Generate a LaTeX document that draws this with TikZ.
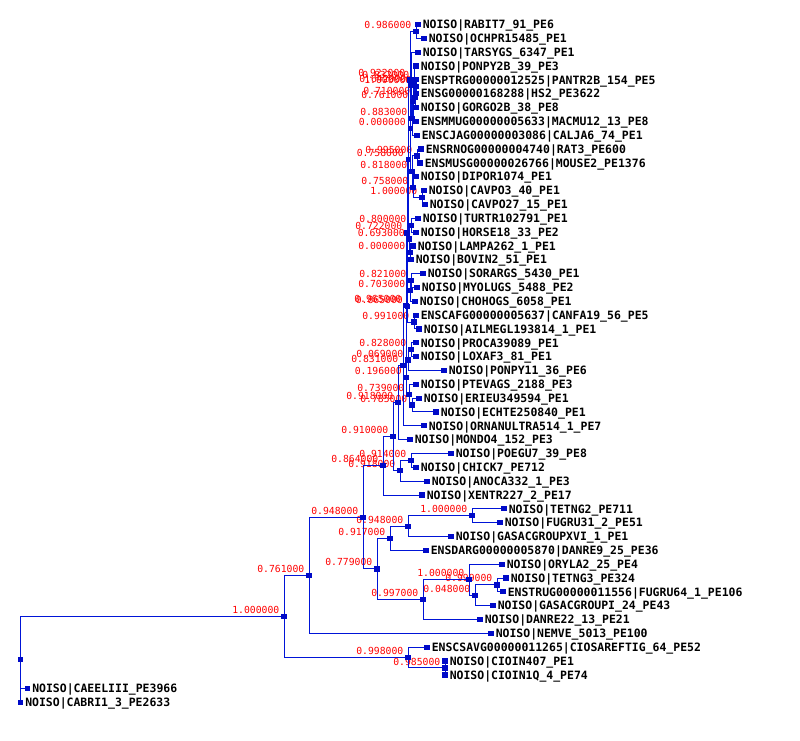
\documentclass[tikz,border=0pt]{standalone}
\usepackage{fontspec}
\newfontfamily\treemono{DejaVu Sans Mono}
\definecolor{linecol}{RGB}{0,20,215}
\definecolor{sqcol}{RGB}{0,10,200}
\definecolor{bootred}{RGB}{255,0,0}
\tikzset{
  edge/.style={draw=linecol, line width=0.75pt},
  sq/.style={fill=sqcol, draw=none, inner sep=0pt, minimum size=3.9pt},
  leaftext/.style={anchor=base west, inner sep=0pt, text=black, font=\treemono\bfseries\fontsize{8.6}{10}\selectfont},
  boot/.style={anchor=base east, inner sep=0pt, text=bootred, font=\treemono\fontsize{7.3}{9}\selectfont},
}
\newcommand\LeafAt[4]{\coordinate (#1) at (#2,#3); \node[leaftext] (#1-t) at ([xshift=3.375pt,yshift=-3.15pt]#1) {#4};}
\newcommand\InnerAt[4]{\coordinate (#1) at (#2,#3); \node[boot] (#1-b) at ([xshift=-3.375pt,yshift=2.2pt]#1) {#4};}
\newcommand\Br[2]{\draw[edge] (#1) |- (#2);}
\begin{document}
\begin{tikzpicture}[x=0.75pt,y=-0.75pt]
\fill[white] (0,0) rectangle (800,740);
\useasboundingbox (0,0) rectangle (800,740);
% leaves
\LeafAt{l1}{418}{24.5}{NOISO|RABIT7\_91\_PE6}
\LeafAt{l2}{424}{38.3}{NOISO|OCHPR15485\_PE1}
\LeafAt{l3}{418}{52.2}{NOISO|TARSYGS\_6347\_PE1}
\LeafAt{l4}{416}{66.0}{NOISO|PONPY2B\_39\_PE3}
\LeafAt{l5}{416}{79.8}{ENSPTRG00000012525|PANTR2B\_154\_PE5}
\LeafAt{l6}{416}{93.7}{ENSG00000168288|HS2\_PE3622}
\LeafAt{l7}{416}{107.5}{NOISO|GORGO2B\_38\_PE8}
\LeafAt{l8}{416}{121.4}{ENSMMUG00000005633|MACMU12\_13\_PE8}
\LeafAt{l9}{417}{135.2}{ENSCJAG00000003086|CALJA6\_74\_PE1}
\LeafAt{l10}{421}{149.0}{ENSRNOG00000004740|RAT3\_PE600}
\LeafAt{l11}{420}{162.9}{ENSMUSG00000026766|MOUSE2\_PE1376}
\LeafAt{l12}{416}{176.7}{NOISO|DIPOR1074\_PE1}
\LeafAt{l13}{424}{190.5}{NOISO|CAVPO3\_40\_PE1}
\LeafAt{l14}{425}{204.4}{NOISO|CAVPO27\_15\_PE1}
\LeafAt{l15}{418}{218.2}{NOISO|TURTR102791\_PE1}
\LeafAt{l16}{416}{232.1}{NOISO|HORSE18\_33\_PE2}
\LeafAt{l17}{413}{245.9}{NOISO|LAMPA262\_1\_PE1}
\LeafAt{l18}{411}{259.7}{NOISO|BOVIN2\_51\_PE1}
\LeafAt{l19}{423}{273.6}{NOISO|SORARGS\_5430\_PE1}
\LeafAt{l20}{417}{287.4}{NOISO|MYOLUGS\_5488\_PE2}
\LeafAt{l21}{415}{301.2}{NOISO|CHOHOGS\_6058\_PE1}
\LeafAt{l22}{416}{315.1}{ENSCAFG00000005637|CANFA19\_56\_PE5}
\LeafAt{l23}{419}{328.9}{NOISO|AILMEGL193814\_1\_PE1}
\LeafAt{l24}{416}{342.8}{NOISO|PROCA39089\_PE1}
\LeafAt{l25}{416}{356.6}{NOISO|LOXAF3\_81\_PE1}
\LeafAt{l26}{444}{370.4}{NOISO|PONPY11\_36\_PE6}
\LeafAt{l27}{416}{384.3}{NOISO|PTEVAGS\_2188\_PE3}
\LeafAt{l28}{419}{398.1}{NOISO|ERIEU349594\_PE1}
\LeafAt{l29}{436}{411.9}{NOISO|ECHTE250840\_PE1}
\LeafAt{l30}{424}{425.8}{NOISO|ORNANULTRA514\_1\_PE7}
\LeafAt{l31}{410}{439.6}{NOISO|MONDO4\_152\_PE3}
\LeafAt{l32}{451}{453.5}{NOISO|POEGU7\_39\_PE8}
\LeafAt{l33}{416}{467.3}{NOISO|CHICK7\_PE712}
\LeafAt{l34}{427}{481.1}{NOISO|ANOCA332\_1\_PE3}
\LeafAt{l35}{422}{495.0}{NOISO|XENTR227\_2\_PE17}
\LeafAt{l36}{504}{508.8}{NOISO|TETNG2\_PE711}
\LeafAt{l37}{500}{522.6}{NOISO|FUGRU31\_2\_PE51}
\LeafAt{l38}{451}{536.5}{NOISO|GASACGROUPXVI\_1\_PE1}
\LeafAt{l39}{426}{550.3}{ENSDARG00000005870|DANRE9\_25\_PE36}
\LeafAt{l40}{502}{564.2}{NOISO|ORYLA2\_25\_PE4}
\LeafAt{l41}{506}{578.0}{NOISO|TETNG3\_PE324}
\LeafAt{l42}{503}{591.8}{ENSTRUG00000011556|FUGRU64\_1\_PE106}
\LeafAt{l43}{493}{605.7}{NOISO|GASACGROUPI\_24\_PE43}
\LeafAt{l44}{480}{619.5}{NOISO|DANRE22\_13\_PE21}
\LeafAt{l45}{491}{633.4}{NOISO|NEMVE\_5013\_PE100}
\LeafAt{l46}{427}{647.2}{ENSCSAVG00000011265|CIOSAREFTIG\_64\_PE52}
\LeafAt{l47}{445}{661.0}{NOISO|CIOIN407\_PE1}
\LeafAt{l48}{445}{674.9}{NOISO|CIOIN1Q\_4\_PE74}
\LeafAt{l49}{27.5}{688.7}{NOISO|CAEELIII\_PE3966}
\LeafAt{l50}{20.5}{702.5}{NOISO|CABRI1\_3\_PE2633}
% internal nodes
\InnerAt{n1}{416}{31.4}{0.986000}
\InnerAt{p1}{416}{86.75}{1.000000}
\InnerAt{p2}{415}{97.1}{0.710000}
\InnerAt{p3}{414}{81.6}{0.832000}
\InnerAt{p4}{413}{101.5}{0.761000}
\InnerAt{p5}{412}{118.35}{0.883000}
\InnerAt{p6}{411}{85.3}{0.642000}
\InnerAt{ro1}{417}{155.95}{0.995000}
\InnerAt{cav}{422}{197.45}{1.000000}
\InnerAt{dc}{413}{187.1}{0.758000}
\InnerAt{rod}{412}{171.5}{0.818000}
\InnerAt{e0}{410.5}{128.4}{0.000000}
\InnerAt{E}{410}{79.9}{0.922000}
\InnerAt{tu}{411}{225.15}{0.800000}
\InnerAt{lb}{410}{252.8}{0.000000}
\InnerAt{ce}{409.5}{239.0}{0.693000}
\InnerAt{sm}{411}{280.5}{0.821000}
\InnerAt{smc}{410}{290.85}{0.703000}
\InnerAt{ca}{414}{322.0}{0.991000}
\InnerAt{L1}{407.5}{306.4}{0.865000}
\InnerAt{g9}{408.5}{159.45}{0.758000}
\InnerAt{g7}{407}{232.9}{0.722000}
\InnerAt{af}{411}{349.7}{0.828000}
\InnerAt{g06}{408}{360.05}{0.069000}
\InnerAt{ee}{412}{405.0}{0.785000}
\InnerAt{pe}{409}{394.65}{0.739000}
\InnerAt{Y}{406.5}{377.35}{0.196000}
\InnerAt{Z}{406}{305.1}{0.965000}
\InnerAt{W}{403}{365.45}{0.831000}
\InnerAt{T}{398}{402.5}{0.918000}
\InnerAt{V}{411}{460.4}{0.914000}
\InnerAt{U}{400}{470.75}{0.918000}
\InnerAt{D}{393}{436.6}{0.910000}
\InnerAt{C}{383}{465.8}{0.864000}
\InnerAt{L}{472}{515.7}{1.000000}
\InnerAt{K}{408}{526.1}{0.948000}
\InnerAt{I}{390}{538.2}{0.917000}
\InnerAt{O}{497}{584.9}{0.999000}
\InnerAt{N}{475}{595.3}{0.048000}
\InnerAt{M}{469}{579.75}{1.000000}
\InnerAt{J}{423}{599.6}{0.997000}
\InnerAt{E2}{377}{568.9}{0.779000}
\InnerAt{B}{363}{517.35}{0.948000}
\InnerAt{F}{309}{575.4}{0.761000}
\InnerAt{H}{445}{667.95}{0.985000}
\InnerAt{G}{408}{657.6}{0.998000}
\InnerAt{A}{284}{616.5}{1.000000}
\coordinate (R) at (20.5,659.5);
% branches
\Br{n1}{l1}\Br{n1}{l2}
\Br{p1}{l5}\Br{p1}{l6}
\Br{p2}{p1}\Br{p2}{l7}
\Br{p3}{l4}\Br{p3}{p2}
\Br{p4}{p3}\Br{p4}{l8}
\Br{p5}{p4}\Br{p5}{l9}
\Br{p6}{l3}\Br{p6}{p5}
\Br{ro1}{l10}\Br{ro1}{l11}
\Br{cav}{l13}\Br{cav}{l14}
\Br{dc}{l12}\Br{dc}{cav}
\Br{rod}{ro1}\Br{rod}{dc}
\Br{e0}{p6}\Br{e0}{rod}
\Br{E}{n1}\Br{E}{e0}
\Br{tu}{l15}\Br{tu}{l16}
\Br{lb}{l17}\Br{lb}{l18}
\Br{ce}{tu}\Br{ce}{lb}
\Br{sm}{l19}\Br{sm}{l20}
\Br{smc}{sm}\Br{smc}{l21}
\Br{ca}{l22}\Br{ca}{l23}
\Br{L1}{smc}\Br{L1}{ca}
\Br{g9}{E}\Br{g9}{ce}
\Br{g7}{g9}\Br{g7}{L1}
\Br{af}{l24}\Br{af}{l25}
\Br{g06}{af}\Br{g06}{l26}
\Br{ee}{l28}\Br{ee}{l29}
\Br{pe}{l27}\Br{pe}{ee}
\Br{Y}{g06}\Br{Y}{pe}
\Br{Z}{g7}\Br{Z}{Y}
\Br{W}{Z}\Br{W}{l30}
\Br{T}{W}\Br{T}{l31}
\Br{V}{l32}\Br{V}{l33}
\Br{U}{V}\Br{U}{l34}
\Br{D}{T}\Br{D}{U}
\Br{C}{D}\Br{C}{l35}
\Br{L}{l36}\Br{L}{l37}
\Br{K}{L}\Br{K}{l38}
\Br{I}{K}\Br{I}{l39}
\Br{O}{l41}\Br{O}{l42}
\Br{N}{O}\Br{N}{l43}
\Br{M}{l40}\Br{M}{N}
\Br{J}{M}\Br{J}{l44}
\Br{E2}{I}\Br{E2}{J}
\Br{B}{C}\Br{B}{E2}
\Br{F}{B}\Br{F}{l45}
\Br{H}{l47}\Br{H}{l48}
\Br{G}{l46}\Br{G}{H}
\Br{A}{F}\Br{A}{G}
\Br{R}{A}\Br{R}{l49}\Br{R}{l50}
% squares
\foreach \i in {1,...,50} {\node[sq] (sq-l\i) at (l\i) {};}
\foreach \n in {n1,p1,p2,p3,p4,p5,p6,ro1,cav,dc,rod,e0,E,tu,lb,ce,sm,smc,ca,L1,g9,g7,af,g06,ee,pe,Y,Z,W,T,V,U,D,C,L,K,I,O,N,M,J,E2,B,F,H,G,A,R} {\node[sq] (sq-\n) at (\n) {};}
\end{tikzpicture}
\end{document}
